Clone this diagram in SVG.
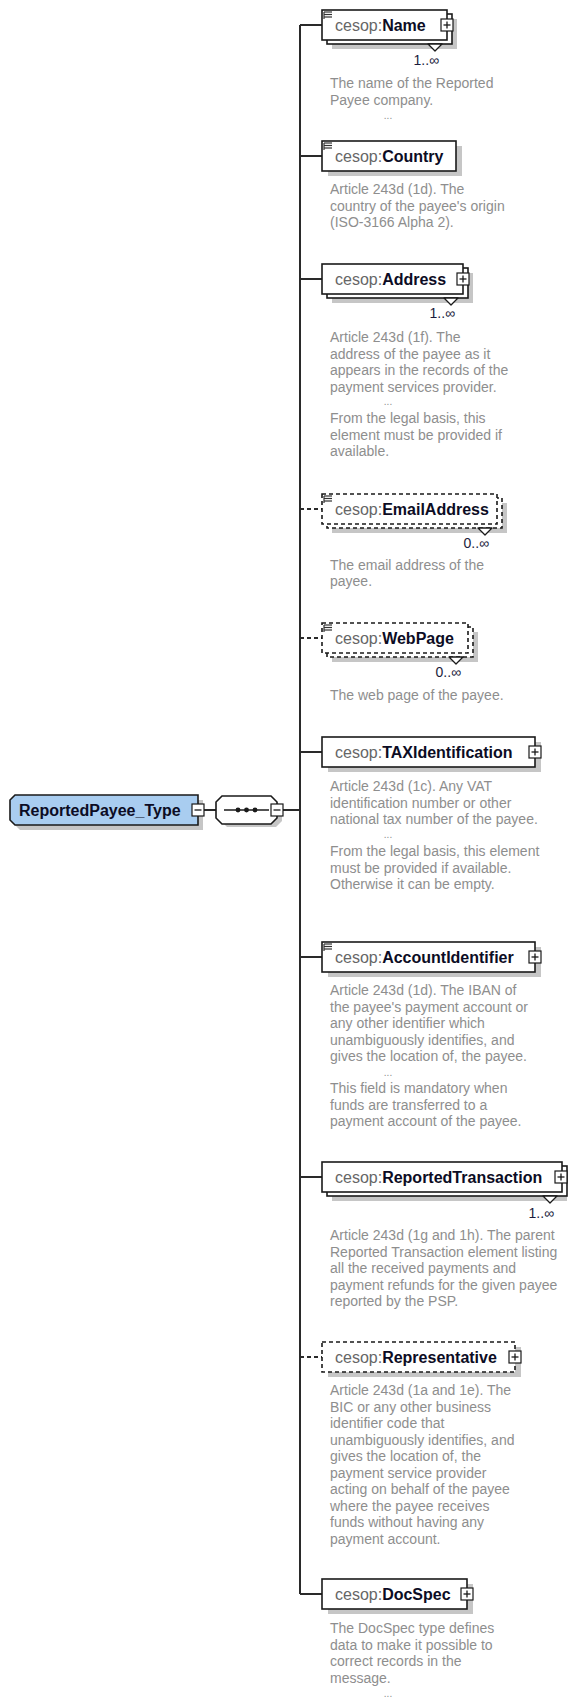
<svg xmlns="http://www.w3.org/2000/svg" width="570" height="1697" viewBox="0 0 570 1697">
<style>
.bg{fill:#fff}
.sh{fill:#c6c6c6}
.box{fill:#fff;stroke:#1a1a1a;stroke-width:1.6}
.opt{fill:#fff;stroke:#1a1a1a;stroke-width:1.6;stroke-dasharray:4 3}
.ln{stroke:#2a2a2a;stroke-width:2;fill:none}
.dln{stroke:#2a2a2a;stroke-width:2;fill:none;stroke-dasharray:4 3}
.ns{font-family:"Liberation Sans",Arial,sans-serif;font-size:16px;fill:#666}
.nm{font-weight:bold;fill:#0c0c24}
.ds{font-family:"Liberation Sans",Arial,sans-serif;font-size:14px;fill:#8e8e8e}
.dots{font-family:"Liberation Sans",Arial,sans-serif;font-size:10px;fill:#8e8e8e;text-anchor:middle}
.mu{font-family:"Liberation Sans",Arial,sans-serif;font-size:14px;fill:#1c1c3c;text-anchor:end}
.ic{fill:#fff;stroke:#1a1a1a;stroke-width:1.2}
.icl{stroke:#1a1a1a;stroke-width:1.3}
.doc{stroke:#333;stroke-width:1.2}
.mk{fill:#fff;stroke:#1a1a1a;stroke-width:1.3;stroke-linejoin:round}
</style>
<defs>
<g id="plus"><rect class="ic" x="-6" y="-6" width="12" height="12"/><line class="icl" x1="-3.5" y1="0" x2="3.5" y2="0"/><line class="icl" x1="0" y1="-3.5" x2="0" y2="3.5"/></g>
<g id="minus"><rect class="ic" x="-6" y="-6" width="12" height="12"/><line class="icl" x1="-3.5" y1="0" x2="3.5" y2="0"/></g>
<g id="doc"><line class="doc" x1="0" y1="0" x2="8" y2="0"/><line class="doc" x1="0" y1="2.5" x2="8" y2="2.5"/><line class="doc" x1="0" y1="5" x2="8" y2="5"/><line class="doc" x1="0" y1="0" x2="0" y2="7"/></g>
</defs>
<rect class="bg" x="0" y="0" width="570" height="1697"/>

<g id="connectors">
<line class="ln" x1="300" y1="25" x2="300" y2="1594"/>
<line class="ln" x1="300" y1="25" x2="322" y2="25"/>
<line class="ln" x1="300" y1="156" x2="322" y2="156"/>
<line class="ln" x1="300" y1="279" x2="322" y2="279"/>
<line class="dln" x1="300" y1="509" x2="322" y2="509"/>
<line class="dln" x1="300" y1="638" x2="322" y2="638"/>
<line class="ln" x1="300" y1="752" x2="322" y2="752"/>
<line class="ln" x1="300" y1="957" x2="322" y2="957"/>
<line class="ln" x1="300" y1="1177" x2="322" y2="1177"/>
<line class="dln" x1="300" y1="1357" x2="322" y2="1357"/>
<line class="ln" x1="300" y1="1594" x2="322" y2="1594"/>
<line class="ln" x1="204" y1="810" x2="216" y2="810"/>
<line class="ln" x1="283" y1="810" x2="300" y2="810"/>
</g>

<g id="n-root">
<path class="sh" d="M20,800 H203 V830 H20 L15,825 V805 Z"/>
<path d="M15,795 H198 V825 H15 L10,820 V800 Z" fill="#a9cdf0" stroke="#1a1a1a" stroke-width="1.6"/>
<text x="19" y="816" font-family="Liberation Sans,Arial,sans-serif" font-size="16" font-weight="bold" fill="#0c0c24">ReportedPayee_Type</text>
<use href="#minus" x="198" y="810"/>
</g>

<g id="n-sequence">
<polygon class="sh" points="227,801 276,801 282,807 282,821 276,827 227,827 221,821 221,807"/>
<polygon class="box" points="222,796 271,796 277,802 277,818 271,824 222,824 216,818 216,802"/>
<line x1="224" y1="810" x2="269" y2="810" stroke="#1a1a1a" stroke-width="1.4"/>
<circle cx="238" cy="810" r="2.4" fill="#1a1a1a"/>
<circle cx="246.5" cy="810" r="2.4" fill="#1a1a1a"/>
<circle cx="255" cy="810" r="2.4" fill="#1a1a1a"/>
<use href="#minus" x="277" y="810"/>
</g>

<g id="n-name">
<rect class="sh" x="332" y="19" width="125" height="30"/>
<rect class="box" x="327" y="14" width="125" height="30"/>
<rect class="box" x="322" y="10" width="125" height="30"/>
<use href="#doc" x="324" y="12"/>
<text class="ns" x="335" y="31">cesop:<tspan class="nm">Name</tspan></text>
<use href="#plus" x="447" y="25"/>
<polygon class="mk" points="428,44 442,44 435,51"/>
<text class="mu" x="439" y="65">1..∞</text>
<text class="ds" x="330" y="88">The name of the Reported</text>
<text class="ds" x="330" y="104.5">Payee company.</text>
<text class="dots" x="388" y="119">...</text>
</g>

<g id="n-country">
<rect class="sh" x="328" y="146" width="134" height="30"/>
<rect class="box" x="322" y="141" width="134" height="30"/>
<use href="#doc" x="324" y="143"/>
<text class="ns" x="335" y="162">cesop:<tspan class="nm">Country</tspan></text>
<text class="ds" x="330" y="194">Article 243d (1d). The</text>
<text class="ds" x="330" y="210.5">country of the payee's origin</text>
<text class="ds" x="330" y="227">(ISO-3166 Alpha 2).</text>
</g>

<g id="n-address">
<rect class="sh" x="332" y="273" width="141" height="30"/>
<rect class="box" x="327" y="268" width="141" height="30"/>
<rect class="box" x="322" y="264" width="141" height="30"/>
<text class="ns" x="335" y="285">cesop:<tspan class="nm">Address</tspan></text>
<use href="#plus" x="463" y="279"/>
<polygon class="mk" points="444,298 458,298 451,305"/>
<text class="mu" x="455" y="318">1..∞</text>
<text class="ds" x="330" y="342">Article 243d (1f). The</text>
<text class="ds" x="330" y="358.5">address of the payee as it</text>
<text class="ds" x="330" y="375">appears in the records of the</text>
<text class="ds" x="330" y="391.5">payment services provider.</text>
<text class="dots" x="388" y="405">...</text>
<text class="ds" x="330" y="423">From the legal basis, this</text>
<text class="ds" x="330" y="439.5">element must be provided if</text>
<text class="ds" x="330" y="456">available.</text>
</g>

<g id="n-email">
<rect class="sh" x="332" y="503" width="175" height="30"/>
<rect class="opt" x="327" y="498" width="175" height="30"/>
<rect class="opt" x="322" y="494" width="175" height="30"/>
<use href="#doc" x="324" y="496"/>
<text class="ns" x="335" y="515">cesop:<tspan class="nm">EmailAddress</tspan></text>
<polygon class="mk" points="478,528 492,528 485,535"/>
<text class="mu" x="489" y="548">0..∞</text>
<text class="ds" x="330" y="570">The email address of the</text>
<text class="ds" x="330" y="586">payee.</text>
</g>

<g id="n-webpage">
<rect class="sh" x="332" y="632" width="146" height="30"/>
<rect class="opt" x="327" y="627" width="146" height="30"/>
<rect class="opt" x="322" y="623" width="146" height="30"/>
<use href="#doc" x="324" y="625"/>
<text class="ns" x="335" y="644">cesop:<tspan class="nm">WebPage</tspan></text>
<polygon class="mk" points="449,657 463,657 456,664"/>
<text class="mu" x="461" y="677">0..∞</text>
<text class="ds" x="330" y="700">The web page of the payee.</text>
</g>

<g id="n-tax">
<rect class="sh" x="328" y="742" width="213" height="30"/>
<rect class="box" x="322" y="737" width="213" height="30"/>
<text class="ns" x="335" y="758">cesop:<tspan class="nm">TAXIdentification</tspan></text>
<use href="#plus" x="535" y="752"/>
<text class="ds" x="330" y="791">Article 243d (1c). Any VAT</text>
<text class="ds" x="330" y="807.5">identification number or other</text>
<text class="ds" x="330" y="824">national tax number of the payee.</text>
<text class="dots" x="388" y="838">...</text>
<text class="ds" x="330" y="856">From the legal basis, this element</text>
<text class="ds" x="330" y="872.5">must be provided if available.</text>
<text class="ds" x="330" y="889">Otherwise it can be empty.</text>
</g>

<g id="n-account">
<rect class="sh" x="328" y="947" width="213" height="30"/>
<rect class="box" x="322" y="942" width="213" height="30"/>
<use href="#doc" x="324" y="944"/>
<text class="ns" x="335" y="963">cesop:<tspan class="nm">AccountIdentifier</tspan></text>
<use href="#plus" x="535" y="957"/>
<text class="ds" x="330" y="995">Article 243d (1d). The IBAN of</text>
<text class="ds" x="330" y="1011.5">the payee's payment account or</text>
<text class="ds" x="330" y="1028">any other identifier which</text>
<text class="ds" x="330" y="1044.5">unambiguously identifies, and</text>
<text class="ds" x="330" y="1061">gives the location of, the payee.</text>
<text class="dots" x="388" y="1076">...</text>
<text class="ds" x="330" y="1093">This field is mandatory when</text>
<text class="ds" x="330" y="1109.5">funds are transferred to a</text>
<text class="ds" x="330" y="1126">payment account of the payee.</text>
</g>

<g id="n-reportedtransaction">
<rect class="sh" x="332" y="1171" width="235" height="30"/>
<rect class="box" x="327" y="1166" width="240" height="30"/>
<rect class="box" x="322" y="1162" width="240" height="30"/>
<text class="ns" x="335" y="1183">cesop:<tspan class="nm">ReportedTransaction</tspan></text>
<use href="#plus" x="561" y="1177"/>
<polygon class="mk" points="543,1196 557,1196 550,1203"/>
<text class="mu" x="554" y="1218">1..∞</text>
<text class="ds" x="330" y="1240">Article 243d (1g and 1h). The parent</text>
<text class="ds" x="330" y="1256.5">Reported Transaction element listing</text>
<text class="ds" x="330" y="1273">all the received payments and</text>
<text class="ds" x="330" y="1289.5">payment refunds for the given payee</text>
<text class="ds" x="330" y="1306">reported by the PSP.</text>
</g>

<g id="n-representative">
<rect class="sh" x="328" y="1347" width="193" height="30"/>
<rect class="opt" x="322" y="1342" width="193" height="30"/>
<text class="ns" x="335" y="1363">cesop:<tspan class="nm">Representative</tspan></text>
<use href="#plus" x="515" y="1357"/>
<text class="ds" x="330" y="1395">Article 243d (1a and 1e). The</text>
<text class="ds" x="330" y="1411.5">BIC or any other business</text>
<text class="ds" x="330" y="1428">identifier code that</text>
<text class="ds" x="330" y="1444.5">unambiguously identifies, and</text>
<text class="ds" x="330" y="1461">gives the location of, the</text>
<text class="ds" x="330" y="1477.5">payment service provider</text>
<text class="ds" x="330" y="1494">acting on behalf of the payee</text>
<text class="ds" x="330" y="1510.5">where the payee receives</text>
<text class="ds" x="330" y="1527">funds without having any</text>
<text class="ds" x="330" y="1543.5">payment account.</text>
</g>

<g id="n-docspec">
<rect class="sh" x="328" y="1584" width="145" height="30"/>
<rect class="box" x="322" y="1579" width="145" height="30"/>
<text class="ns" x="335" y="1600">cesop:<tspan class="nm">DocSpec</tspan></text>
<use href="#plus" x="467" y="1594"/>
<text class="ds" x="330" y="1633">The DocSpec type defines</text>
<text class="ds" x="330" y="1649.5">data to make it possible to</text>
<text class="ds" x="330" y="1666">correct records in the</text>
<text class="ds" x="330" y="1682.5">message.</text>
<text class="dots" x="388" y="1697">...</text>
</g>
</svg>
